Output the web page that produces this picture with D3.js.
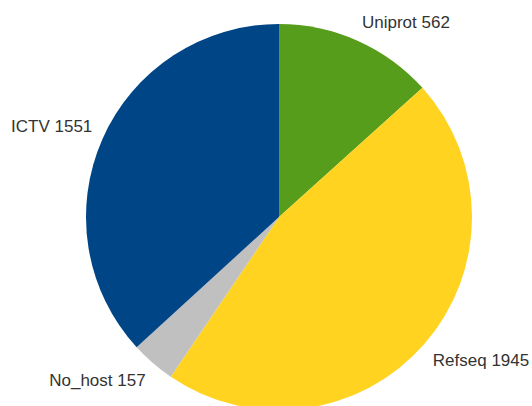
<!DOCTYPE html>
<html>
<head>
<meta charset="utf-8">
<script src="https://cdn.jsdelivr.net/npm/d3@7/dist/d3.min.js"></script>
<style>
  body { margin: 0; background: #fff; }
  text { font-family: "Liberation Sans", Arial, sans-serif; font-size: 17px; fill: #333; }
</style>
</head>
<body>
<div id="chart"></div>
<script>
'use strict';

const names = ['Uniprot', 'Refseq', 'No_host', 'ICTV'];
const counts = [562, 1945, 157, 1551];
const colors = ['#579d1c', '#ffd320', '#c0c0c0', '#004586'];

const width = 532;
const height = 406;
const cx = 279;
const cy = 217;
const radius = 193;
const labelRadius = 204;

const svg = d3.select('#chart').append('svg')
    .attr('width', width)
    .attr('height', height);

const g = svg.append('g')
    .attr('transform', `translate(${cx},${cy})`);

const pie = d3.pie().sort(null).value(d => d.value);
const data = pie(names.map((n, i) => ({name: n, value: counts[i], color: colors[i]})));

const arc = d3.arc().innerRadius(0).outerRadius(radius);
const labelArc = d3.arc().innerRadius(labelRadius).outerRadius(labelRadius);

g.selectAll('path')
    .data(data)
    .enter()
    .append('path')
    .attr('d', arc)
    .attr('fill', d => d.data.color);

const mid = d => (d.startAngle + d.endAngle) / 2;

g.selectAll('text')
    .data(data)
    .enter()
    .append('text')
    .attr('transform', d => {
        const [x, y] = labelArc.centroid(d);
        return `translate(${x},${y})`;
    })
    .attr('text-anchor', d => mid(d) < Math.PI ? 'start' : 'end')
    // lower half hangs below the point, upper half sits above it
    .attr('dy', d => (mid(d) > Math.PI / 2 && mid(d) < Math.PI * 1.5) ? 15 : -3)
    .text(d => d.data.name + ' ' + d.data.value);
</script>
</body>
</html>
